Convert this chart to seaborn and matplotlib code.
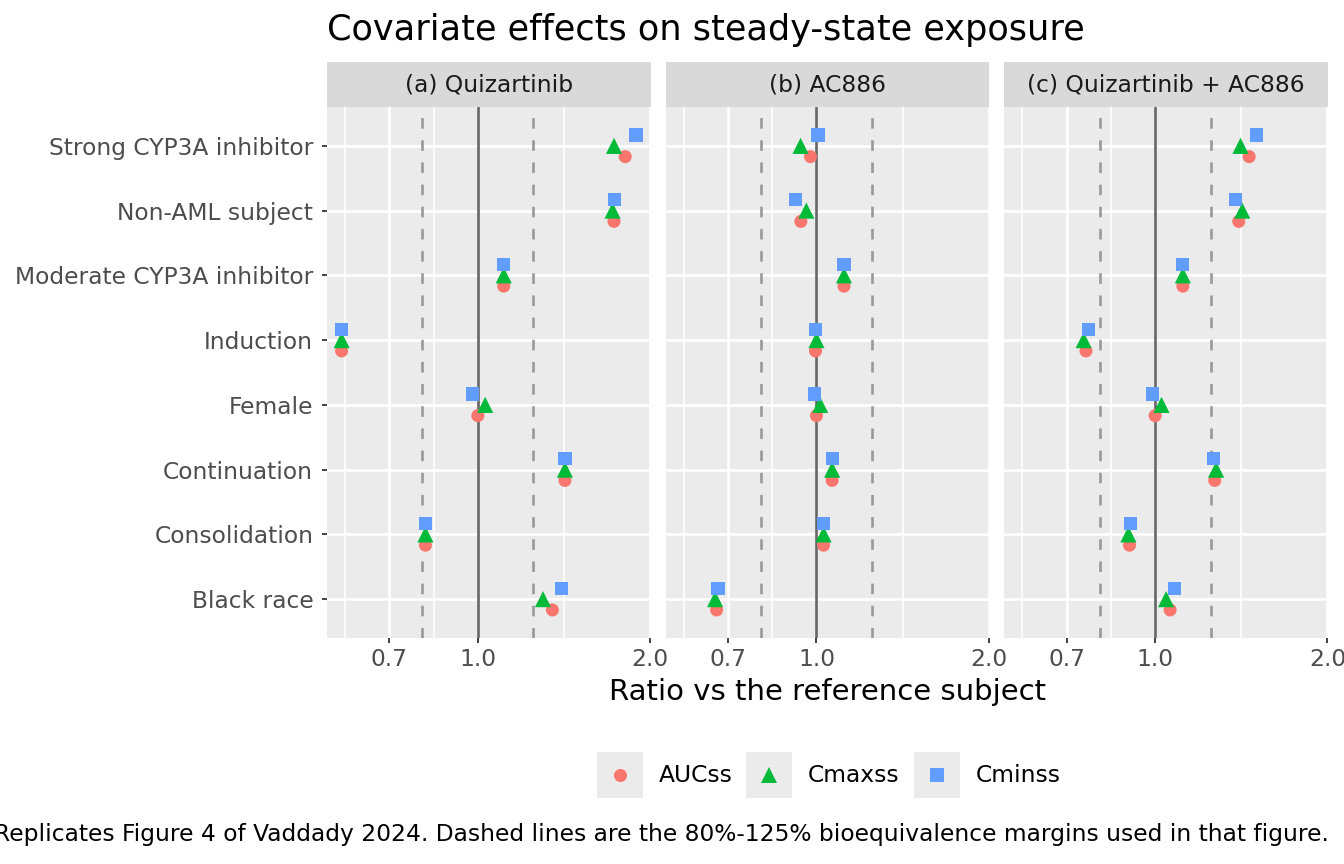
import numpy as np
import pandas as pd
import matplotlib
matplotlib.use("Agg")
import matplotlib.pyplot as plt
from matplotlib.lines import Line2D
from matplotlib.patches import Rectangle
from matplotlib.ticker import FixedLocator, FixedFormatter, NullFormatter
import seaborn as sns

# ---- data ----
covariates = ["Black race", "Consolidation", "Continuation", "Female", "Induction",
              "Moderate CYP3A inhibitor", "Non-AML subject", "Strong CYP3A inhibitor"]
drugs = ["(a) Quizartinib", "(b) AC886", "(c) Quizartinib + AC886"]
metrics = ["AUCss", "Cmaxss", "Cminss"]

quiz_auc = [1.35, 0.81, 1.42, 1.00, 0.578, 1.11, 1.73, 1.81]
quiz_cmax = [1.30, 0.81, 1.42, 1.03, 0.578, 1.11, 1.72, 1.73]
quiz_cmin = [1.40, 0.81, 1.42, 0.98, 0.578, 1.11, 1.735, 1.89]

ac_auc = [0.669, 1.029, 1.065, 1.00, 0.996, 1.117, 0.939, 0.976]
ac_cmax = [0.665, 1.029, 1.065, 1.015, 1.00, 1.117, 0.96, 0.938]
ac_cmin = [0.673, 1.029, 1.065, 0.992, 0.996, 1.117, 0.92, 1.006]

combo_auc = [1.062, 0.902, 1.271, 1.00, 0.757, 1.118, 1.40, 1.46]
combo_cmax = [1.045, 0.898, 1.278, 1.026, 0.75, 1.118, 1.42, 1.41]
combo_cmin = [1.081, 0.905, 1.264, 0.988, 0.765, 1.118, 1.38, 1.505]

x_breaks = [0.7, 1.0, 2.0]
be_margins = [0.8, 1.25]

values = {
    (drugs[0], "AUCss"): quiz_auc, (drugs[0], "Cmaxss"): quiz_cmax, (drugs[0], "Cminss"): quiz_cmin,
    (drugs[1], "AUCss"): ac_auc, (drugs[1], "Cmaxss"): ac_cmax, (drugs[1], "Cminss"): ac_cmin,
    (drugs[2], "AUCss"): combo_auc, (drugs[2], "Cmaxss"): combo_cmax, (drugs[2], "Cminss"): combo_cmin,
}
rows = []
for (drug, metric), vals in values.items():
    for cov, v in zip(covariates, vals):
        rows.append({"drug": drug, "metric": metric, "covariate": cov, "ratio": v})
df = pd.DataFrame(rows)

# vertical dodge, like position_dodge(width = 0.5)
dodge = {"AUCss": -1 / 6, "Cmaxss": 0.0, "Cminss": 1 / 6}
cov_index = {c: i for i, c in enumerate(covariates)}
df["ypos"] = df["covariate"].map(cov_index) + df["metric"].map(dodge)

palette = {"AUCss": "#F8766D", "Cmaxss": "#00BA38", "Cminss": "#619CFF"}
markers = {"AUCss": "o", "Cmaxss": "^", "Cminss": "s"}
sizes = {"AUCss": 88, "Cmaxss": 135, "Cminss": 90}

sns.set_theme(style="darkgrid")
plt.rcParams["font.family"] = ["DejaVu Sans"]

g = sns.relplot(data=df, x="ratio", y="ypos", col="drug", col_order=drugs,
                hue="metric", style="metric", size="metric",
                hue_order=metrics, style_order=metrics, size_order=metrics,
                palette=palette, markers=markers, sizes=sizes,
                legend=False, height=5, aspect=0.7, linewidth=0)
fig = g.figure
fig.set_size_inches(13.44, 8.64)
fig.set_dpi(100)
fig.patch.set_facecolor("white")
g.set_titles("")
g.set_axis_labels("", "")

W, H = 1344, 864
fig.subplots_adjust(left=327 / W, right=1328 / W, top=1 - 107 / H, bottom=1 - 638 / H,
                    wspace=15 / 323.7)

# minor grid halfway between breaks on the log scale, extended one step below (as ggplot does)
ext = [x_breaks[0] ** 2 / x_breaks[1]] + x_breaks
minor = [np.sqrt(a * b) for a, b in zip(ext[:-1], ext[1:])]
strip_h = 45 / 531
small = 16.8

# the facets share x and y, so the tickers are set once
ax0 = g.axes.flat[0]
ax0.set_xscale("log")
ax0.set_xlim(0.545, 2.005)
ax0.set_ylim(-0.6, 7.6)
ax0.xaxis.set_major_locator(FixedLocator(x_breaks))
ax0.xaxis.set_major_formatter(FixedFormatter([f"{b:.1f}" for b in x_breaks]))
ax0.xaxis.set_minor_locator(FixedLocator(minor))
ax0.xaxis.set_minor_formatter(NullFormatter())
ax0.yaxis.set_major_locator(FixedLocator(range(len(covariates))))
ax0.yaxis.set_major_formatter(FixedFormatter(covariates))

for i, ax in enumerate(g.axes.flat):
    ax.set_facecolor("#EBEBEB")
    ax.set_axisbelow(True)
    for s in ax.spines.values():
        s.set_visible(False)

    ax.grid(which="major", color="white", linewidth=1.9)
    ax.grid(which="minor", axis="x", color="white", linewidth=1.2)
    ax.tick_params(which="major", length=3.4, width=1.3, color="#333333",
                   labelcolor="#4D4D4D", labelsize=small, pad=3.5,
                   left=True, bottom=True, labelleft=(i == 0), labelbottom=True)
    ax.tick_params(axis="y", pad=6.5)
    ax.tick_params(which="minor", length=0)
    if i > 0:
        ax.tick_params(axis="y", left=False)

    ax.axvline(1.0, color="#666666", linewidth=1.9, zorder=0.8)
    for m in be_margins:
        ax.axvline(m, color="#999999", linewidth=1.9, linestyle=(0, (4, 4.4)), zorder=0.8)

    # facet strip
    ax.add_patch(Rectangle((0, 1), 1, strip_h, transform=ax.transAxes, clip_on=False,
                           facecolor="#D9D9D9", edgecolor="none"))
    ax.text(0.5, 1 + strip_h / 2, drugs[i], transform=ax.transAxes, ha="center",
            va="center", fontsize=small, color="#1A1A1A")

# titles
fig.text(327 / W, 1 - 30 / H, "Covariate effects on steady-state exposure",
         fontsize=25.3, ha="left", va="center", color="black")
fig.text(827.5 / W, 1 - 692 / H, "Ratio vs the reference subject",
         fontsize=21, ha="center", va="center", color="black")

# legend at the bottom, ggplot style keys
key_x = [597, 746, 914]
for kx, metric in zip(key_x, metrics):
    fig.add_artist(Rectangle((kx / W, 1 - 798 / H), 46 / W, 46 / H, transform=fig.transFigure,
                             facecolor="#EBEBEB", edgecolor="none"))
    ms = np.sqrt(sizes[metric])
    fig.add_artist(Line2D([(kx + 23) / W], [1 - 775 / H], transform=fig.transFigure,
                          marker=markers[metric], markersize=ms, color=palette[metric],
                          linestyle="none", markeredgewidth=0))
    fig.text((kx + 62) / W, 1 - 775 / H, metric, fontsize=small, ha="left", va="center",
             color="black")

# caption is right-aligned to the panels and runs past the left edge, as in the original
fig.text(1329 / W, 1 - 835 / H,
         "Replicates Figure 4 of Vaddady 2024. Dashed lines are the 80%-125% bioequivalence "
         "margins used in that figure.",
         fontsize=small, ha="right", va="center", color="black")

fig.savefig("out.png", dpi=100, facecolor="white")
